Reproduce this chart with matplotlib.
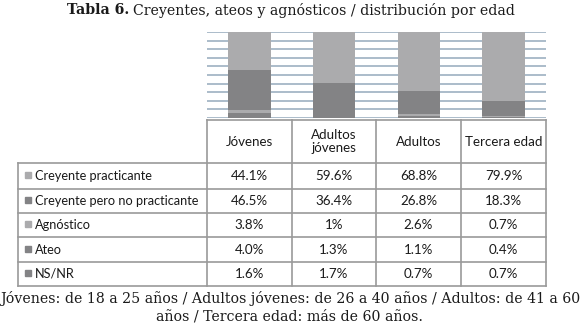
import matplotlib
matplotlib.use("Agg")
import matplotlib.pyplot as plt
from matplotlib.patches import Rectangle

# data (stacked bottom -> top)
groups = ["Jóvenes", "Adultos\njóvenes", "Adultos", "Tercera edad"]
series = ["Creyente practicante", "Creyente pero no practicante", "Agnóstico", "Ateo", "NS/NR"]
practicante = [44.1, 59.6, 68.8, 79.9]
no_practicante = [46.5, 36.4, 26.8, 18.3]
agnostico = [3.8, 1.0, 2.6, 0.7]
ateo = [4.0, 1.3, 1.1, 0.4]
nsnr = [1.6, 1.7, 0.7, 0.7]
cell_text = [
    ["44.1%", "59.6%", "68.8%", "79.9%"],
    ["46.5%", "36.4%", "26.8%", "18.3%"],
    ["3.8%", "1%", "2.6%", "0.7%"],
    ["4.0%", "1.3%", "1.1%", "0.4%"],
    ["1.6%", "1.7%", "0.7%", "0.7%"],
]

light = "#ababad"
dark = "#838385"
colors = [light, dark, light, dark, dark]
values = [practicante, no_practicante, agnostico, ateo, nsnr]

W, H = 580, 325
fig = plt.figure(figsize=(W / 100, H / 100), dpi=100)

# full-figure pixel axes for table and text
bg = fig.add_axes([0, 0, 1, 1])
bg.set_xlim(0, W)
bg.set_ylim(H, 0)
bg.axis("off")

# chart
x0, x1, ytop, ybot = 207, 546, 32, 118
ax = fig.add_axes([x0 / W, 1 - ybot / H, (x1 - x0) / W, (ybot - ytop) / H])
xs = range(len(groups))
bottom = [0, 0, 0, 0]
for vals, c in reversed(list(zip(values, colors))):
    ax.bar(xs, vals, width=0.5, bottom=bottom, color=c, zorder=3)
    bottom = [b + v for b, v in zip(bottom, vals)]
ax.set_xlim(-0.5, 3.5)
ax.set_ylim(0, 100)
for yv in range(0, 101, 10):
    ax.axhline(yv, color="#a5b6c6", lw=1.3, zorder=1)
ax.axis("off")

# table
font = "Lato"
txtc = "#1a1a1a"
fs = 9.6
col_edges = [207, 292, 376, 461, 546]
row_edges = [163, 189, 213, 237, 262, 286]
lab_x0 = 18
top = 120
lc = "#9a9a9a"
bg.plot([x0, x1], [top, top], color=lc, lw=1.2)
for xe in col_edges:
    bg.plot([xe, xe], [top, row_edges[-1]], color=lc, lw=1.2)
for ye in row_edges:
    bg.plot([lab_x0, x1], [ye, ye], color=lc, lw=1.2)
bg.plot([lab_x0, lab_x0], [row_edges[0], row_edges[-1]], color=lc, lw=1.2)

for i, g in enumerate(groups):
    cx = (col_edges[i] + col_edges[i + 1]) / 2
    bg.text(cx, (top + 163) / 2, g, ha="center", va="center", fontsize=fs,
            family=font, linespacing=1.15, color=txtc)

for r, name in enumerate(series):
    cy = (row_edges[r] + row_edges[r + 1]) / 2
    bg.add_patch(Rectangle((25, cy - 4), 6, 6, color=colors[r]))
    bg.text(35, cy, name, ha="left", va="center", fontsize=9.2, family=font, color=txtc)
    for i in range(4):
        cx = (col_edges[i] + col_edges[i + 1]) / 2
        bg.text(cx, cy, cell_text[r][i], ha="center", va="center", fontsize=fs,
                family=font, color=txtc)

# title
t1 = bg.text(67, 10, "Tabla 6.", ha="left", va="center", fontsize=10.2,
             family="DejaVu Serif", weight="bold", color=txtc)
fig.canvas.draw()
bb = t1.get_window_extent()
bx = bg.transData.inverted().transform((bb.x1, bb.y0))[0]
bg.text(bx + 4, 10, "Creyentes, ateos y agnósticos / distribución por edad", ha="left",
        va="center", fontsize=10.2, family="DejaVu Serif", color=txtc)

bg.text(W / 2, 299, "Jóvenes: de 18 a 25 años / Adultos jóvenes: de 26 a 40 años / Adultos: de 41 a 60",
        ha="center", va="center", fontsize=10.2, family="DejaVu Serif", color=txtc)
bg.text(W / 2, 317, "años / Tercera edad: más de 60 años.",
        ha="center", va="center", fontsize=10.2, family="DejaVu Serif", color=txtc)

fig.savefig("out.png", dpi=100)
